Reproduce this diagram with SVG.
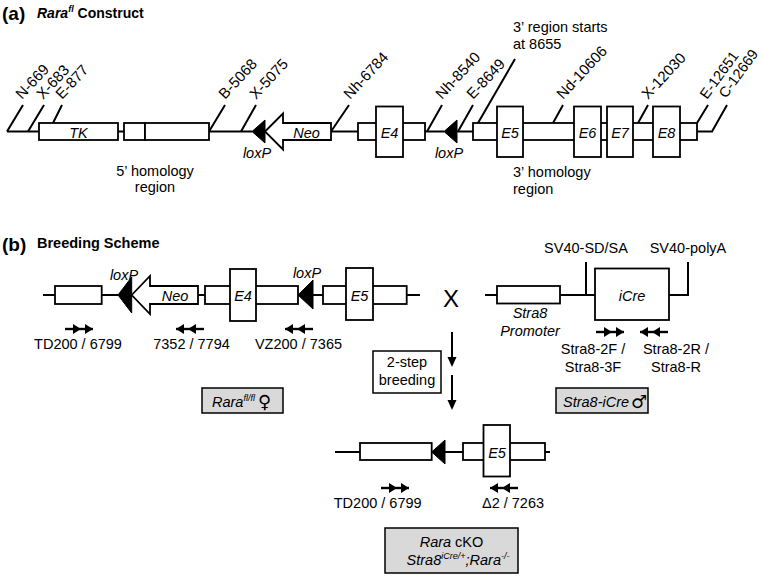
<svg xmlns="http://www.w3.org/2000/svg" width="762" height="576" viewBox="0 0 762 576">
<style>
text{font-family:"Liberation Sans",Arial,sans-serif;font-size:14.5px;fill:#000}
.it{font-style:italic}
.b{font-weight:bold}
.mid{text-anchor:middle}
.ln{stroke:#000;stroke-width:2;fill:none}
.bx{stroke:#000;stroke-width:1.8;fill:#fff}
.gb{stroke:#000;stroke-width:1.5;fill:#d9d9d9}
.tri{fill:#000;stroke:#000;stroke-width:1}
.sup{font-size:9px}
.rot{font-size:15px}
.sym{font-family:"DejaVu Sans",sans-serif;font-size:18px}
</style>
<defs>
<g id="fwd"><path d="M0,0H28" stroke="#000" stroke-width="2.4"/><path d="M16,0l-8,-5v10zM28,0l-8,-5v10z" fill="#000"/></g>
<g id="rev"><path d="M0,0H28" stroke="#000" stroke-width="2.4"/><path d="M0,0l8,-5v10zM12,0l8,-5v10z" fill="#000"/></g>
<g id="down"><path d="M0,0V27" stroke="#000" stroke-width="2"/><path d="M-4.5,25h9l-4.5,10z" fill="#000"/></g>
</defs>

<!-- Titles -->
<text x="2" y="19.5" class="b" style="font-size:19px">(a)</text>
<text x="37" y="18" class="b" style="font-size:14px"><tspan class="it">Rara</tspan><tspan class="it sup" dy="-6">fl</tspan><tspan dy="6"> Construct</tspan></text>
<text x="2" y="250.5" class="b" style="font-size:19px">(b)</text>
<text x="37" y="248" class="b" style="font-size:14.5px">Breeding Scheme</text>

<!-- (a) construct -->
<g id="connectors-a">
<path class="ln" d="M7,131.5H39M118,131.5H124M209,131.5H252M331,131.5H358M425,131.5H444M457,131.5H473M697,131.5H712L727,105"/>
<path class="ln" d="M7,131.5L23,105M28,131.5L44,105M53,123L62,105M209,131.5L225,105M241,131.5L256,105M331,131.5L349,105M427,131.5L442,105M458,131.5L473,105M478,123L515,59M553,123L563,105M638,123L648,105M697,123L708,105"/>
</g>
<g id="a-tk"><rect class="bx" x="39" y="123" width="79" height="17"/><text x="78.5" y="137.5" class="it mid">TK</text></g>
<g id="a-5hom"><rect class="bx" x="124" y="123" width="21" height="17"/><rect class="bx" x="145" y="123" width="64" height="17"/></g>
<g id="a-loxp1"><path class="tri" d="M252,131.5L265,120V143Z"/><text x="257" y="158" class="it mid">loxP</text></g>
<g id="a-neo"><path class="bx" d="M265,131.5L283,113.5V123H331V140H283V149.5Z"/><text x="306.5" y="137.5" class="it mid">Neo</text></g>
<g id="a-e4"><rect class="bx" x="358" y="123" width="67" height="17"/><rect class="bx" x="376" y="106.5" width="27" height="50.5"/><text x="389.5" y="137.5" class="it mid">E4</text></g>
<g id="a-loxp2"><path class="tri" d="M444,131.5L457,120V143Z"/><text x="449" y="158" class="it mid">loxP</text></g>
<g id="a-3hom"><rect class="bx" x="473" y="123" width="224" height="17"/>
<rect class="bx" x="497" y="106.5" width="26" height="50.5"/><text x="510" y="137.5" class="it mid">E5</text>
<rect class="bx" x="574" y="106.5" width="27" height="50.5"/><text x="587.5" y="137.5" class="it mid">E6</text>
<rect class="bx" x="607" y="106.5" width="26" height="50.5"/><text x="620" y="137.5" class="it mid">E7</text>
<rect class="bx" x="653" y="106.5" width="27" height="50.5"/><text x="666.5" y="137.5" class="it mid">E8</text></g>

<g id="a-sites" class="rot">
<text class="rot" transform="translate(22,100) rotate(-47)">N-669</text>
<text class="rot" transform="translate(43,100) rotate(-47)">X-683</text>
<text class="rot" transform="translate(62,100) rotate(-47)">E-877</text>
<text class="rot" transform="translate(225,100) rotate(-47)">B-5068</text>
<text class="rot" transform="translate(256,100) rotate(-47)">X-5075</text>
<text class="rot" transform="translate(350,100) rotate(-47)">Nh-6784</text>
<text class="rot" transform="translate(442,100) rotate(-47)">Nh-8540</text>
<text class="rot" transform="translate(473,100) rotate(-47)">E-8649</text>
<text class="rot" transform="translate(563,100) rotate(-47)">Nd-10606</text>
<text class="rot" transform="translate(648,100) rotate(-47)">X-12030</text>
<text transform="translate(707,100) rotate(-54)">E-12651</text>
<text transform="translate(726,99) rotate(-54)">C-12669</text>
</g>
<text x="513" y="32">3’ region starts</text>
<text x="513" y="49">at 8655</text>
<text x="155" y="176" class="mid">5’ homology</text>
<text x="155" y="192" class="mid">region</text>
<text x="513" y="177">3’ homology</text>
<text x="513" y="194">region</text>

<!-- (b) female allele -->
<g id="connectors-b">
<path class="ln" d="M43,295H55M101.7,295H118M198,295H205M313,295H323M406.7,295H420"/>
<path class="ln" d="M485,295H497M560,295H595M669,295H688V262M586,262V295"/>
<path class="ln" d="M335,452H360M445,452H463M545,452H550"/>
<use href="#down" x="452" y="332"/>
<use href="#down" x="452" y="375"/>
</g>
<g id="b-fl">
<rect class="bx" x="55" y="286" width="46.7" height="18"/>
<path class="tri" d="M118,295L131.7,277V313Z"/>
<text x="124" y="280" class="it mid">loxP</text>
<path class="bx" d="M131.7,295L150,276V286H198V304H150V314Z"/>
<text x="175" y="300.5" class="it mid">Neo</text>
<rect class="bx" x="205" y="286" width="93" height="18"/>
<rect class="bx" x="230" y="269" width="26" height="52"/>
<text x="243" y="300.5" class="it mid">E4</text>
<path class="tri" d="M298,295L313,280V309Z"/>
<text x="307" y="278" class="it mid">loxP</text>
<rect class="bx" x="323" y="286" width="83.7" height="18"/>
<rect class="bx" x="346" y="268" width="27" height="52"/>
<text x="359.5" y="300.5" class="it mid">E5</text>
</g>
<g id="b-primers1">
<use href="#fwd" x="65" y="329"/>
<text x="78" y="349" class="mid">TD200 / 6799</text>
<use href="#rev" x="176" y="329"/>
<text x="191.5" y="349" class="mid">7352 / 7794</text>
<use href="#rev" x="285" y="329"/>
<text x="298.5" y="349" class="mid">VZ200 / 7365</text>
</g>
<g id="b-female"><rect class="gb" x="202" y="388" width="81" height="25"/>
<text x="212" y="407"><tspan class="it">Rara</tspan><tspan class="it sup" dy="-6">fl/fl</tspan></text>
<text x="258" y="408" class="sym">♀</text></g>

<text x="451" y="307" class="mid" style="font-size:24px">X</text>

<g id="b-breed"><rect class="bx" x="373" y="351" width="68" height="42" style="stroke-width:1.5"/>
<text x="407" y="367" class="mid">2-step</text><text x="407" y="385" class="mid">breeding</text></g>

<!-- (b) male -->
<g id="b-cre">
<rect class="bx" x="497" y="286" width="63" height="17.5"/>
<text x="530" y="318" class="it mid">Stra8</text>
<text x="530" y="336" class="it mid">Promoter</text>
<rect class="bx" x="595" y="268.5" width="74" height="51.5"/>
<text x="632" y="301" class="it mid">iCre</text>
<text x="586" y="253" class="mid">SV40-SD/SA</text>
<text x="688" y="253" class="mid">SV40-polyA</text>
<use href="#fwd" x="596" y="332"/>
<use href="#rev" x="640" y="332"/>
<text x="593" y="354" class="mid">Stra8-2F /</text>
<text x="593" y="372" class="mid">Stra8-3F</text>
<text x="676" y="354" class="mid">Stra8-2R /</text>
<text x="676" y="372" class="mid">Stra8-R</text>
</g>
<g id="b-male"><rect class="gb" x="556" y="388" width="92" height="25"/>
<text x="563" y="407" class="it">Stra8-iCre</text>
<text x="631" y="408" class="sym">♂</text></g>

<!-- (b) cKO -->
<g id="b-ko">
<rect class="bx" x="360" y="443" width="71.7" height="17"/>
<path class="tri" d="M431.7,452L445,440V464Z"/>
<rect class="bx" x="463" y="443" width="82" height="17"/>
<rect class="bx" x="483.5" y="425" width="26.5" height="51.5"/>
<text x="497" y="457.5" class="it mid">E5</text>
<use href="#fwd" x="381" y="488"/>
<text x="377.7" y="507.5" class="mid">TD200 / 6799</text>
<use href="#rev" x="490" y="488"/>
<text x="513" y="507.5" class="mid">Δ2 / 7263</text>
</g>
<g id="b-cko"><rect class="gb" x="385" y="528" width="133" height="45"/>
<text x="451.5" y="547" class="mid"><tspan class="it">Rara</tspan> cKO</text>
<text x="458" y="565" class="mid"><tspan class="it">Stra8</tspan><tspan class="it sup" dy="-6">iCre/+</tspan><tspan class="it" dy="6">;Rara</tspan><tspan class="it sup" dy="-6">-/-</tspan></text></g>
</svg>
